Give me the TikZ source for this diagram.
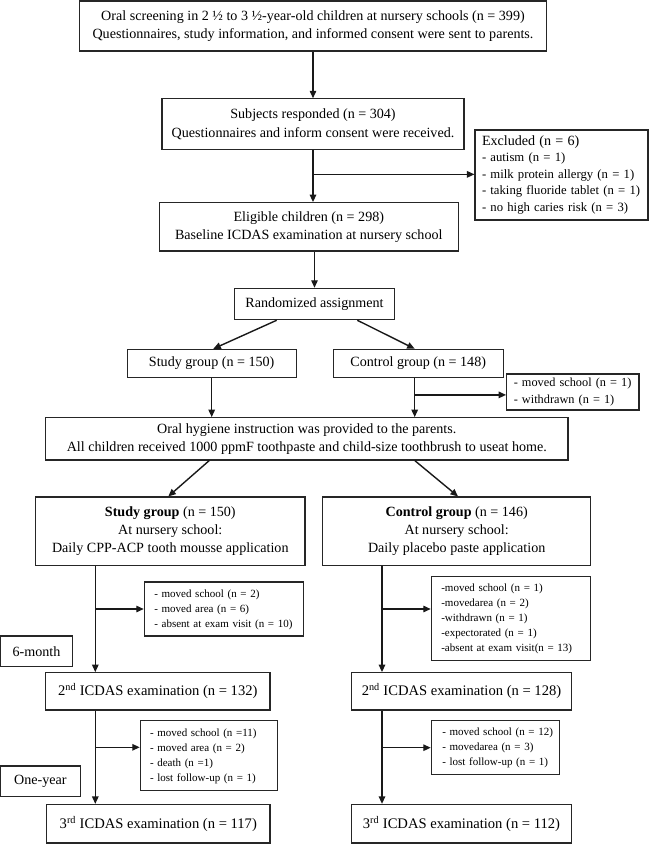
\documentclass[tikz,border=0pt]{standalone}
\usepackage{fontspec}
\setmainfont{Liberation Serif}
\usetikzlibrary{arrows.meta,calc}
\newcommand{\lstlines}[1]{\begin{tabular}{@{}l@{}}#1\end{tabular}}
\begin{document}
\begin{tikzpicture}[x=1pt,y=-1pt,
  box/.style={draw=black!85,line width=1.1pt,inner sep=0pt,align=center,
    font=\fontsize{14.1}{18.3}\selectfont},
  lst/.style={draw=black!85,line width=1.1pt,inner sep=0pt,align=left,
    font=\fontsize{11}{15}\selectfont},
  big/.style={font=\fontsize{14.6}{17}\selectfont},
  arr/.style={line width=1.4pt,draw=black!90,-{Triangle[length=7.5pt,width=6.5pt]}}]
\useasboundingbox (0,0) rectangle (649,844);
% boxes
\node[box,minimum width=467,minimum height=50] (screen) at (313,26)
  {Oral screening in 2 ½ to 3 ½-year-old children at nursery schools (n = 399)\\
   Questionnaires, study information, and informed consent were sent to parents.};
\node[box,minimum width=302,minimum height=51] (resp) at (313,124.3)
  {Subjects responded (n = 304)\\Questionnaires and inform consent were received.};
\node[lst,minimum width=173,minimum height=90,text width=159,
  font=\fontsize{12.7}{16.5}\selectfont] (excl1) at (561.5,175)
  {\lstlines{{\fontsize{14.1}{16.5}\selectfont Excluded (n = 6)}\\
   - autism (n = 1)\\- milk protein allergy (n = 1)\\- taking fluoride tablet (n = 1)\\- no high caries risk (n = 3)}};
\node[box,minimum width=299,minimum height=48.3] (elig) at (308.8,226.8)
  {Eligible children (n = 298)\\Baseline ICDAS examination at nursery school};
\node[box,minimum width=160.4,minimum height=31.4] (rand) at (314.5,304)
  {Randomized assignment};
\node[box,minimum width=169.3,minimum height=27.7] (sg1) at (211.7,363.2)
  {Study group (n = 150)};
\node[box,minimum width=169.7,minimum height=27.7] (cg1) at (418.2,363.2)
  {Control group (n = 148)};
\node[lst,minimum width=132.3,minimum height=36,text width=118,
  font=\fontsize{12.3}{16.7}\selectfont] (excl2) at (572.8,392)
  {\lstlines{- moved school (n = 1)\\- withdrawn (n = 1)}};
\node[box,minimum width=522.3,minimum height=42.3] (oral) at (306.8,438.8)
  {Oral hygiene instruction was provided to the parents.\\
   All children received 1000 ppmF toothpaste and child-size toothbrush to useat home.};
\node[box,minimum width=269.3,minimum height=68.7] (sg2) at (170.3,531.3)
  {\textbf{Study group} (n = 150)\\At nursery school:\\Daily CPP-ACP tooth mousse application};
\node[box,minimum width=268,minimum height=68.7] (cg2) at (456.7,531.3)
  {\textbf{Control group} (n = 146)\\At nursery school:\\Daily placebo paste application};
\node[lst,minimum width=159,minimum height=54,text width=139] (excl3) at (223.8,609)
  {\lstlines{- moved school (n = 2)\\- moved area (n = 6)\\- absent at exam visit (n = 10)}};
\node[lst,minimum width=159.4,minimum height=84,text width=139.4] (excl5) at (511,618.7)
  {\lstlines{-moved school (n = 1)\\-movedarea (n = 2)\\-withdrawn (n = 1)\\-expectorated (n = 1)\\-absent at exam visit(n = 13)}};
\node[box,minimum width=72,minimum height=30.7] (m6) at (36.5,651.3) {6-month};
\node[box,big,minimum width=224.3,minimum height=37.3] (icdL2) at (157.8,691.3)
  {2\textsuperscript{nd} ICDAS examination (n = 132)};
\node[box,big,minimum width=219.6,minimum height=37.3] (icdR2) at (461.5,691.3)
  {2\textsuperscript{nd} ICDAS examination (n = 128)};
\node[lst,minimum width=137.4,minimum height=70,text width=118] (excl4) at (209,755.7)
  {\lstlines{- moved school (n =11)\\- moved area (n = 2)\\- death (n =1)\\- lost follow-up (n = 1)}};
\node[lst,minimum width=128,minimum height=54,text width=106] (excl6) at (495.3,747.7)
  {\lstlines{- moved school (n = 12)\\- movedarea (n = 3)\\- lost follow-up (n = 1)}};
\node[box,minimum width=79.5,minimum height=30.7] (y1) at (40.3,781.3) {One-year};
\node[box,big,minimum width=223.3,minimum height=38.6] (icdL3) at (158.3,823.7)
  {3\textsuperscript{rd} ICDAS examination (n = 117)};
\node[box,big,minimum width=219.6,minimum height=38.6] (icdR3) at (461.5,823.7)
  {3\textsuperscript{rd} ICDAS examination (n = 112)};
% connectors
\draw[arr] (screen.south) -- (screen.south |- resp.north);
\coordinate (b1) at ($(resp.south)+(0,24)$);
\draw[arr] (resp.south) -- (resp.south |- elig.north);
\draw[arr] (b1) -- (b1 -| excl1.west);
\draw[arr] (rand.north |- elig.south) -- (rand.north);
\draw[arr] ($(rand.south)+(-37.8,0)$) -- ($(sg1.north)+(1.6,0)$);
\draw[arr] ($(rand.south)+(42.8,0)$) -- ($(cg1.north)+(-3.5,0)$);
\draw[arr] (sg1.south) -- (sg1.south |- oral.north);
\coordinate (c1) at ($(cg1.south)+(-3.5,0)$);
\draw[arr] (c1) -- (c1 |- oral.north);
\coordinate (b2) at ($(c1)+(0,17.3)$);
\draw[arr] (b2) -- (b2 -| excl2.west);
\draw[arr] ($(oral.south)+(-97.5,0)$) -- ($(sg2.north)+(-2,0)$);
\draw[arr] ($(oral.south)+(107.9,0)$) -- ($(cg2.north)+(1.3,0)$);
% left column
\coordinate (l1) at (95.3,0);
\draw[arr] (sg2.south -| l1) -- (icdL2.north -| l1);
\draw[arr] (l1 |- excl3.west) -- (excl3.west);
\draw[arr] (icdL2.south -| l1) -- (icdL3.north -| l1);
\coordinate (b4) at (95.3,747.3);
\draw[arr] (b4) -- (b4 -| excl4.west);
% right column
\coordinate (r1) at (382,0);
\draw[arr] (cg2.south -| r1) -- (icdR2.north -| r1);
\coordinate (b5) at (382,609);
\draw[arr] (b5) -- (b5 -| excl5.west);
\draw[arr] (icdR2.south -| r1) -- (icdR3.north -| r1);
\draw[arr] (r1 |- excl6.west) -- (excl6.west);
\end{tikzpicture}
\end{document}
